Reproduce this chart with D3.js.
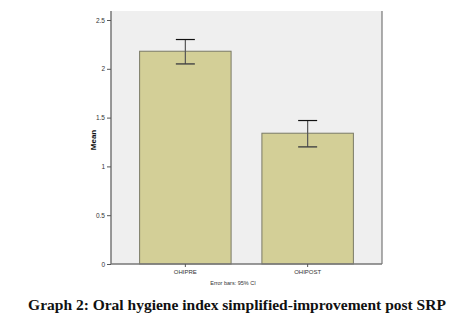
<!DOCTYPE html>
<html><head><meta charset="utf-8">
<script src="https://cdn.jsdelivr.net/npm/d3@7"></script>
<style>body{margin:0;background:#fff}svg{display:block}</style>
</head><body>
<svg id="c" width="470" height="332"></svg>
<script>
const categories = ["OHIPRE", "OHIPOST"];
const means = [2.18, 1.34];
const ciLow = [2.05, 1.20];
const ciHigh = [2.30, 1.47];
const yTicks = [0, 0.5, 1, 1.5, 2, 2.5];
const yTickLabels = ["0", "0.5", "1", "1.5", "2", "2.5"];

const svg = d3.select("#c");
const L = 111, R = 382, T = 11, B = 264;
const x = d3.scaleBand().domain(categories).range([L, R]).paddingInner(0.252).paddingOuter(0.234);
const y = d3.scaleLinear().domain([0, 2.5]).range([B, 20]);

svg.append("rect").attr("x", L).attr("y", T).attr("width", R - L).attr("height", B - T).attr("fill", "#efefef");

svg.selectAll(".bar").data(categories).enter().append("rect")
  .attr("x", d => x(d)).attr("width", x.bandwidth())
  .attr("y", (d, i) => y(means[i])).attr("height", (d, i) => B - y(means[i]))
  .attr("fill", "#d3cf97").attr("stroke", "#7a7a66").attr("stroke-width", 1);

const cap = 9.5;
categories.forEach((c, i) => {
  const cx = x(c) + x.bandwidth() / 2;
  const g = svg.append("g");
  g.append("line").attr("x1", cx).attr("x2", cx).attr("y1", y(ciHigh[i])).attr("y2", y(ciLow[i])).attr("stroke", "#555").attr("stroke-width", 1.2);
  g.append("line").attr("x1", cx - cap).attr("x2", cx + cap).attr("y1", y(ciHigh[i])).attr("y2", y(ciHigh[i])).attr("stroke", "#111").attr("stroke-width", 1.2);
  g.append("line").attr("x1", cx - cap).attr("x2", cx + cap).attr("y1", y(ciLow[i])).attr("y2", y(ciLow[i])).attr("stroke", "#444").attr("stroke-width", 1.4);
});

// right border
svg.append("line").attr("x1", R).attr("x2", R).attr("y1", T).attr("y2", B).attr("stroke", "#777").attr("stroke-width", 1.2);

const yAxis = d3.axisLeft(y).tickValues(yTicks).tickFormat((d, i) => yTickLabels[i]).tickSize(4).tickPadding(2);
const ya = svg.append("g").attr("transform", `translate(${L},0)`).call(yAxis);
ya.select(".domain").attr("d", `M0,${T}V${B}`).attr("stroke", "#777").attr("stroke-width", 1.5);
ya.selectAll(".tick line").attr("stroke", "#555");
ya.selectAll("text").attr("font-family", "Liberation Sans, Arial, sans-serif").attr("font-size", 6.5).attr("fill", "#333");

const xAxis = d3.axisBottom(x).tickSize(3).tickPadding(3);
const xa = svg.append("g").attr("transform", `translate(0,${B})`).call(xAxis);
xa.select(".domain").attr("d", `M${L},0H${R}`).attr("stroke", "#777").attr("stroke-width", 1.5);
xa.selectAll(".tick line").attr("stroke", "#555");
xa.selectAll("text").attr("font-family", "Liberation Sans, Arial, sans-serif").attr("font-size", 6).attr("fill", "#333");

svg.append("text").attr("transform", "translate(96,140) rotate(-90)").attr("text-anchor", "middle")
  .attr("font-family", "Liberation Sans, Arial, sans-serif").attr("font-weight", "bold").attr("font-size", 8).attr("fill", "#111").text("Mean");

svg.append("text").attr("x", 233).attr("y", 285).attr("text-anchor", "middle")
  .attr("font-family", "Liberation Sans, Arial, sans-serif").attr("font-size", 5.5).attr("fill", "#333").text("Error bars: 95% CI");

svg.append("text").attr("x", 237).attr("y", 310).attr("text-anchor", "middle")
  .attr("font-family", "Liberation Serif, Times New Roman, serif").attr("font-weight", "bold").attr("font-size", 15.5).attr("fill", "#111")
  .text("Graph 2: Oral hygiene index simplified-improvement post SRP");
</script>
</body></html>
